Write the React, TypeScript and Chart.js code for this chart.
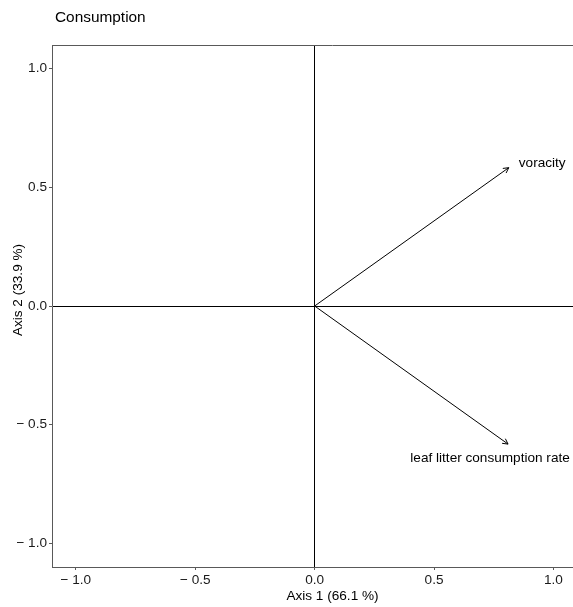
import React, { useEffect, useRef } from "react";
import { Chart, registerables } from "chart.js";

Chart.register(...registerables);

const chartTitle = "Consumption";
const xAxisTitle = "Axis 1 (66.1 %)";
const yAxisTitle = "Axis 2 (33.9 %)";
const variables = ["voracity", "leaf litter consumption rate"];
const axis1 = [0.813, 0.81];
const axis2 = [0.583, -0.582];
const tickValues = [-1, -0.5, 0, 0.5, 1];
const tickLabels = ["− 1.0", "− 0.5", "0.0", "0.5", "1.0"];

const FONT = "'Liberation Sans', Arial, sans-serif";

function tickText(v: number): string {
  const i = tickValues.findIndex((t) => Math.abs(t - v) < 1e-9);
  return i >= 0 ? tickLabels[i] : "";
}

const decorPlugin = {
  id: "decor",
  afterDatasetsDraw(chart: any) {
    const { ctx, chartArea } = chart;
    const xs = chart.scales.x;
    const ys = chart.scales.y;
    ctx.save();
    // panel border (top)
    ctx.strokeStyle = "#595959";
    ctx.lineWidth = 1;
    ctx.beginPath();
    ctx.moveTo(chartArea.left, chartArea.top + 0.5);
    ctx.lineTo(chartArea.right, chartArea.top + 0.5);
    ctx.stroke();
    // arrow heads and labels
    ctx.strokeStyle = "#000";
    ctx.fillStyle = "#000";
    ctx.font = `13.6px ${FONT}`;
    variables.forEach((name, i) => {
      const x0 = xs.getPixelForValue(0);
      const y0 = ys.getPixelForValue(0);
      const x1 = xs.getPixelForValue(axis1[i]);
      const y1 = ys.getPixelForValue(axis2[i]);
      const ang = Math.atan2(y1 - y0, x1 - x0);
      const len = 6;
      const spread = (28 * Math.PI) / 180;
      ctx.beginPath();
      ctx.moveTo(x1 - len * Math.cos(ang - spread), y1 - len * Math.sin(ang - spread));
      ctx.lineTo(x1, y1);
      ctx.lineTo(x1 - len * Math.cos(ang + spread), y1 - len * Math.sin(ang + spread));
      ctx.stroke();
      ctx.textBaseline = "middle";
      if (axis2[i] >= 0) {
        ctx.textAlign = "left";
        ctx.fillText(name, x1 + 10, y1 - 4);
      } else {
        ctx.textAlign = "center";
        ctx.fillText(name, x1 - 18, y1 + 14);
      }
    });
    // titles
    ctx.fillStyle = "#000";
    ctx.textAlign = "left";
    ctx.textBaseline = "middle";
    ctx.font = `15.4px ${FONT}`;
    ctx.fillText(chartTitle, 55, 18);
    ctx.font = `13.6px ${FONT}`;
    ctx.textAlign = "center";
    ctx.fillText(xAxisTitle, (chartArea.left + chartArea.right) / 2, 596);
    ctx.translate(18, 290);
    ctx.rotate(-Math.PI / 2);
    ctx.fillText(yAxisTitle, 0, 0);
    ctx.restore();
  },
};

export default function App() {
  const ref = useRef<HTMLCanvasElement | null>(null);
  useEffect(() => {
    if (!ref.current) return;
    const chart = new Chart(ref.current, {
      type: "scatter",
      data: {
        datasets: variables.map((name, i) => ({
          label: name,
          data: [
            { x: 0, y: 0 },
            { x: axis1[i], y: axis2[i] },
          ],
          showLine: true,
          borderColor: "#000",
          borderWidth: 1,
          pointRadius: 0,
          pointHoverRadius: 0,
        })),
      },
      options: {
        animation: false,
        responsive: false,
        devicePixelRatio: 1,
        layout: { padding: { top: 45, right: 1, left: 0, bottom: 0 } },
        plugins: {
          legend: { display: false },
          tooltip: { enabled: false },
          title: { display: false },
        },
        scales: {
          x: {
            type: "linear",
            min: -1.1,
            max: 1.2495,
            afterFit: (s: any) => {
              s.height = 40;
            },
            afterBuildTicks: (s: any) => {
              s.ticks = tickValues.map((v) => ({ value: v }));
            },
            ticks: {
              includeBounds: false,
              callback: (v: any) => tickText(Number(v)),
              color: "#1a1a1a",
              font: { family: FONT, size: 13.6 },
              padding: 2,
              maxRotation: 0,
              autoSkip: false,
            },
            grid: {
              color: (c: any) => (c.tick && Math.abs(c.tick.value) < 1e-9 ? "#000" : "rgba(0,0,0,0)"),
              lineWidth: 1,
              tickColor: "#595959",
              tickLength: 3,
              drawTicks: true,
            },
            border: { display: true, color: "#595959", width: 1 },
          },
          y: {
            type: "linear",
            min: -1.1,
            max: 1.1,
            afterFit: (s: any) => {
              s.width = 52;
            },
            afterBuildTicks: (s: any) => {
              s.ticks = tickValues.map((v) => ({ value: v }));
            },
            ticks: {
              includeBounds: false,
              callback: (v: any) => tickText(Number(v)),
              color: "#1a1a1a",
              font: { family: FONT, size: 13.6 },
              padding: 2,
              autoSkip: false,
            },
            grid: {
              color: (c: any) => (c.tick && Math.abs(c.tick.value) < 1e-9 ? "#000" : "rgba(0,0,0,0)"),
              lineWidth: 1,
              tickColor: "#595959",
              tickLength: 3,
              drawTicks: true,
            },
            border: { display: true, color: "#595959", width: 1 },
          },
        },
      },
      plugins: [decorPlugin],
    } as any);
    return () => chart.destroy();
  }, []);
  return (
    <div
      style={{
        position: "absolute",
        left: 0,
        top: 0,
        width: 573,
        height: 607,
        overflow: "hidden",
        background: "#fff",
      }}
    >
      <canvas ref={ref} width={614} height={607} style={{ width: 614, height: 607, display: "block" }} />
    </div>
  );
}
